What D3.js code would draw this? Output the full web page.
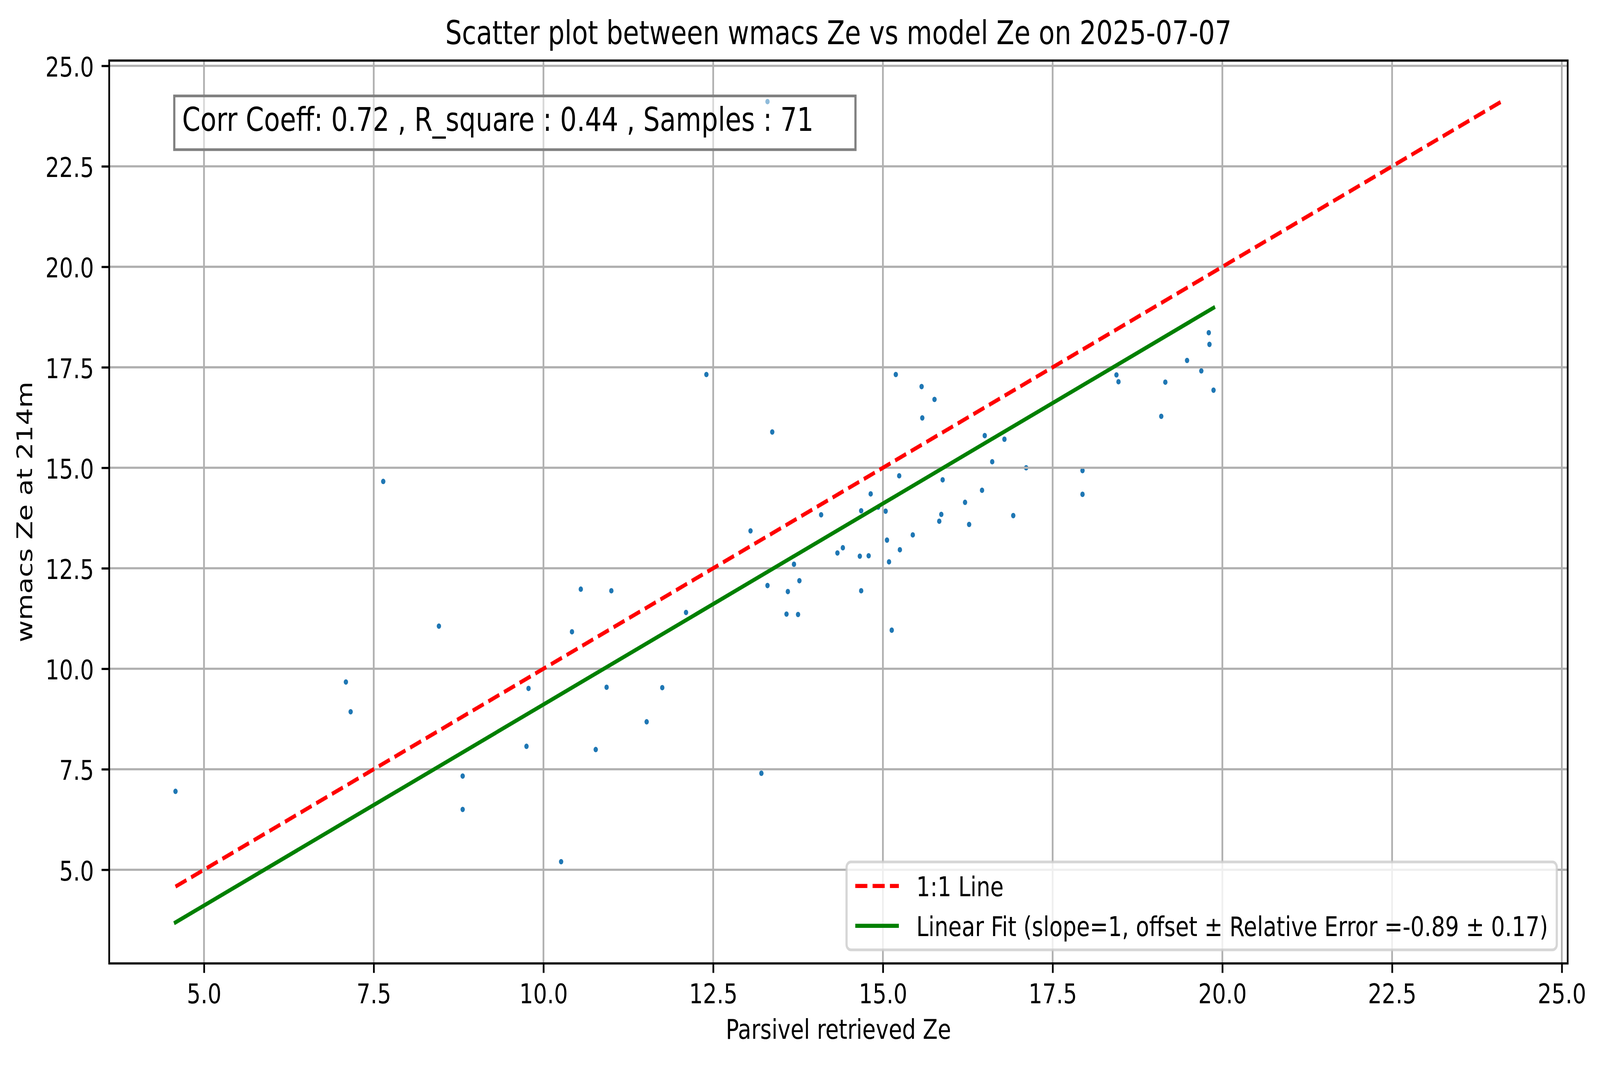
<!DOCTYPE html>
<html lang="en">
<head>
  <meta charset="UTF-8">
  <script src="https://d3js.org/d3.v7.min.js"></script>
  <title>wmacs Ze vs model Ze</title>
  <style>
    html, body {
      margin: 0;
      padding: 0;
      background: white;
      overflow: hidden;
    }
    svg {
      display: block;
      width: 100vw;
      height: 100vh;
    }
    svg text {
      font-family: "DejaVu Sans", sans-serif;
      fill: black;
    }
  </style>
</head>
<body>
<script>

  // Parsivel retrieved Ze (x) and wmacs Ze at 214m (y)
  const parsivelZe = [
    4.58, 7.64, 8.46, 7.09, 7.16, 9.78, 9.75, 8.81, 8.81,
    12.40, 13.37, 15.19, 15.57, 15.58, 15.24, 14.82, 14.68, 14.09, 14.93,
    15.04, 15.06, 15.25, 15.44, 15.09, 15.13, 14.33, 14.41, 14.66, 14.79,
    14.68, 13.05, 13.69, 13.30, 13.60, 13.77, 13.58, 13.75, 13.21,
    10.55, 11.00, 10.42, 12.10, 10.93, 11.75, 11.52, 10.77, 10.26,
    15.76, 16.50, 16.79, 16.61, 17.11, 15.88, 16.46, 16.21, 15.86, 15.83,
    16.27, 16.92, 17.94, 17.94, 18.44, 18.47, 19.10, 19.16, 19.48, 19.69,
    19.87, 19.80, 19.81, 13.30
  ];
  const wmacsZe = [
    6.95, 14.66, 11.06, 9.67, 8.93, 9.51, 8.07, 7.33, 6.50,
    17.32, 15.89, 17.32, 17.02, 16.24, 14.80, 14.35, 13.93, 13.83, 14.02,
    13.92, 13.20, 12.96, 13.33, 12.66, 10.96, 12.88, 13.01, 12.80, 12.81,
    11.94, 13.43, 12.60, 12.07, 11.92, 12.19, 11.36, 11.35, 7.40,
    11.98, 11.94, 10.92, 11.40, 9.54, 9.53, 8.68, 7.99, 5.20,
    16.70, 15.80, 15.71, 15.15, 15.00, 14.70, 14.44, 14.14, 13.84, 13.67,
    13.59, 13.81, 14.93, 14.34, 17.31, 17.14, 16.28, 17.13, 17.67, 17.41,
    16.93, 18.36, 18.07, 24.11
  ];

  // Statistics printed on the figure
  const corrCoeff = 0.72;
  const rSquare = 0.44;
  const fitOffset = -0.89;
  const relError = 0.17;

  const xTicks = [5.0, 7.5, 10.0, 12.5, 15.0, 17.5, 20.0, 22.5, 25.0];
  const yTicks = [5.0, 7.5, 10.0, 12.5, 15.0, 17.5, 20.0, 22.5, 25.0];

  const titleText = "Scatter plot between wmacs Ze vs model Ze on 2025-07-07";
  const xLabelText = "Parsivel retrieved Ze";
  const yLabelText = "wmacs Ze at 214m";
  const legendLabels = [
    "1:1 Line",
    `Linear Fit (slope=1, offset \u00b1 Relative Error =${fitOffset} \u00b1 ${relError})`
  ];

  // Figure size and axes box (the original is a 500 dpi matplotlib figure)
  const width = 5099;
  const height = 2726;
  const margin = { top: 155, right: 103, bottom: 260, left: 348 };
  const pt = 500 / 72;            // pixels per point
  const fs = 10 * pt;             // default font size
  const lw = 0.8 * pt;            // spine / tick / grid width

  const points = parsivelZe.map((x, i) => ({ x: x, y: wmacsZe[i] }));
  const n = points.length;

  // 1:1 line spans the overall min..max, fit line spans the x range
  const allVals = parsivelZe.concat(wmacsZe);
  const oneLo = d3.min(allVals), oneHi = d3.max(allVals);
  const xLo = d3.min(parsivelZe), xHi = d3.max(parsivelZe);
  const oneToOne = [[oneLo, oneLo], [oneHi, oneHi]];
  const fitLine = [[xLo, xLo + fitOffset], [xHi, xHi + fitOffset]];

  // matplotlib style autoscale with 5% margins
  function padded(lo, hi) {
    const p = (hi - lo) * 0.05;
    return [lo - p, hi + p];
  }
  const xDom = padded(Math.min(xLo, oneLo), Math.max(xHi, oneHi));
  const yDom = padded(Math.min(d3.min(wmacsZe), oneLo, xLo + fitOffset),
                      Math.max(d3.max(wmacsZe), oneHi, xHi + fitOffset));

  const x = d3.scaleLinear().domain(xDom).range([margin.left, width - margin.right]);
  const y = d3.scaleLinear().domain(yDom).range([height - margin.bottom, margin.top]);

  // viewBox so the whole figure fills the window whatever its css size
  const svg = d3.select("body").append("svg")
    .attr("viewBox", `0 0 ${width} ${height}`)
    .attr("preserveAspectRatio", "none");

  svg.append("rect")
    .attr("width", width)
    .attr("height", height)
    .attr("fill", "white");

  const axL = margin.left, axR = width - margin.right;
  const axT = margin.top, axB = height - margin.bottom;

  // Scatter points (drawn below the grid, as in matplotlib)
  svg.append("g")
    .selectAll("circle")
    .data(points)
    .enter().append("circle")
    .attr("cx", d => x(d.x))
    .attr("cy", d => y(d.y))
    .attr("r", 1 * pt)
    .attr("fill", "#1f77b4");

  // Grid lines
  const grid = svg.append("g").attr("stroke", "#b0b0b0").attr("stroke-width", lw);
  grid.selectAll(".gx")
    .data(xTicks)
    .enter().append("line")
    .attr("x1", d => x(d)).attr("x2", d => x(d))
    .attr("y1", axT).attr("y2", axB);
  grid.selectAll(".gy")
    .data(yTicks)
    .enter().append("line")
    .attr("x1", axL).attr("x2", axR)
    .attr("y1", d => y(d)).attr("y2", d => y(d));

  // Axes with matplotlib-like ticks
  const tickLen = 3.5 * pt;
  const xAxis = svg.append("g")
    .attr("transform", `translate(0,${axB})`)
    .call(d3.axisBottom(x).tickValues(xTicks).tickFormat(d3.format(".1f"))
      .tickSize(tickLen).tickPadding(3.5 * pt));
  const yAxis = svg.append("g")
    .attr("transform", `translate(${axL},0)`)
    .call(d3.axisLeft(y).tickValues(yTicks).tickFormat(d3.format(".1f"))
      .tickSize(tickLen).tickPadding(3.5 * pt));

  [xAxis, yAxis].forEach(g => {
    g.select(".domain").remove();
    g.selectAll(".tick line").attr("stroke", "black").attr("stroke-width", lw);
    g.selectAll(".tick text")
      .attr("font-size", fs)
      .attr("font-family", "DejaVu Sans");
  });
  xAxis.selectAll(".tick text").attr("dy", null).attr("y", 102)
    .attr("dominant-baseline", "alphabetic");
  yAxis.selectAll(".tick text").attr("dy", 27)
    .attr("dominant-baseline", "alphabetic");

  // Fit lines
  const lineGen = d3.line().x(d => x(d[0])).y(d => y(d[1]));
  svg.append("path")
    .datum(oneToOne)
    .attr("d", lineGen)
    .attr("fill", "none")
    .attr("stroke", "red")
    .attr("stroke-width", 1.5 * pt)
    .attr("stroke-dasharray", `${5.55 * pt},${2.4 * pt}`);
  svg.append("path")
    .datum(fitLine)
    .attr("d", lineGen)
    .attr("fill", "none")
    .attr("stroke", "green")
    .attr("stroke-width", 1.5 * pt)
    .attr("stroke-linecap", "square");

  // Spines
  svg.append("rect")
    .attr("x", axL).attr("y", axT)
    .attr("width", axR - axL).attr("height", axB - axT)
    .attr("fill", "none")
    .attr("stroke", "black")
    .attr("stroke-width", lw);

  // Title and axis labels
  svg.append("text")
    .attr("x", (axL + axR) / 2)
    .attr("y", axT - 6 * pt)
    .attr("text-anchor", "middle")
    .attr("font-size", 12 * pt)
    .text(titleText);

  svg.append("text")
    .attr("x", (axL + axR) / 2)
    .attr("y", 2659)
    .attr("text-anchor", "middle")
    .attr("font-size", fs)
    .text(xLabelText);

  svg.append("text")
    .attr("transform", `translate(102,${(axT + axB) / 2}) rotate(-90)`)
    .attr("text-anchor", "middle")
    .attr("font-size", fs)
    .text(yLabelText);

  // Statistics box, top left of the axes (semi-transparent white)
  const boxFs = 12 * pt;
  const boxPad = 0.3 * boxFs;
  const tx = axL + 0.05 * (axR - axL);
  const tTop = axT + 0.05 * (axB - axT);
  const statBox = svg.append("g");
  const boxRect = statBox.append("rect");
  const statText = statBox.append("text")
    .attr("x", tx)
    .attr("y", tTop + 0.775 * boxFs)
    .attr("font-size", boxFs)
    .text(`Corr Coeff: ${corrCoeff.toFixed(2)} , R_square : ${rSquare.toFixed(2)} , Samples : ${n}`);
  const tw = statText.node().getComputedTextLength();
  boxRect
    .attr("x", tx - boxPad)
    .attr("y", tTop - boxPad)
    .attr("width", tw + 2 * boxPad + 1.3 * boxFs)
    .attr("height", 1.05 * boxFs + 2 * boxPad)
    .attr("fill", "white")
    .attr("fill-opacity", 0.5)
    .attr("stroke", "#808080")
    .attr("stroke-width", 1 * pt);

  // Legend, lower right
  const legend = svg.append("g");
  const legFrame = legend.append("rect");
  const rowH = 0.97 * fs;
  const borderPad = 0.4 * fs;
  const handleLen = 2.0 * fs;
  const handlePad = 0.8 * fs;
  const rowGap = 0.5 * fs;
  const legTexts = legend.selectAll("text")
    .data(legendLabels)
    .enter().append("text")
    .attr("font-size", fs)
    .text(d => d);
  const legTextW = d3.max(legTexts.nodes(), nd => nd.getComputedTextLength());
  const legW = 2 * borderPad + handleLen + handlePad + legTextW;
  const legH = 2 * borderPad + legendLabels.length * rowH + (legendLabels.length - 1) * rowGap;
  const legX = axR - 0.5 * fs - legW;
  const legY = axB - 0.5 * fs - legH;
  legFrame
    .attr("x", legX).attr("y", legY)
    .attr("width", legW).attr("height", legH)
    .attr("rx", 0.2 * fs).attr("ry", 0.2 * fs)
    .attr("fill", "white")
    .attr("fill-opacity", 0.8)
    .attr("stroke", "#cccccc")
    .attr("stroke-opacity", 0.8)
    .attr("stroke-width", 1 * pt);
  const rowY = i => legY + borderPad + rowH / 2 + i * (rowH + rowGap);
  legTexts
    .attr("x", legX + borderPad + handleLen + handlePad)
    .attr("y", (d, i) => rowY(i) + 26);
  legend.append("line")
    .attr("x1", legX + borderPad).attr("x2", legX + borderPad + handleLen)
    .attr("y1", rowY(0)).attr("y2", rowY(0))
    .attr("stroke", "red")
    .attr("stroke-width", 1.5 * pt)
    .attr("stroke-dasharray", `${5.55 * pt},${2.4 * pt}`);
  legend.append("line")
    .attr("x1", legX + borderPad).attr("x2", legX + borderPad + handleLen)
    .attr("y1", rowY(1)).attr("y2", rowY(1))
    .attr("stroke", "green")
    .attr("stroke-width", 1.5 * pt);

</script>
</body>
</html>
